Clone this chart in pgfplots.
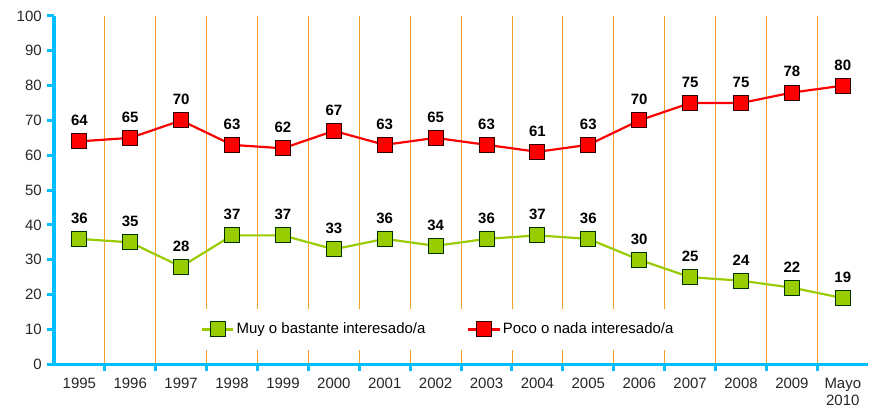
\documentclass[border=0pt]{standalone}
\usepackage{pgfplots}
\pgfplotsset{compat=1.18}
\usepackage{fontspec}
\setmainfont{Liberation Sans}
\definecolor{axcyan}{RGB}{0,190,255}
\definecolor{gridor}{RGB}{247,160,40}
\definecolor{lgreen}{RGB}{153,204,0}
\definecolor{lred}{RGB}{255,0,0}
\begin{document}
\fontsize{15pt}{17pt}\selectfont
\begin{tikzpicture}
\begin{axis}[
  scale only axis,
  width=816pt, height=349pt,
  xmin=-0.5, xmax=15.5, ymin=0, ymax=100,
  axis x line=bottom, axis y line=left,
  axis line style={axcyan, line width=3.5pt, -},
  xtick={0.5,1.5,...,14.5},
  xticklabels={},
  xmajorgrids,
  major grid style={gridor, line width=0.9pt},
  extra x ticks={0,...,15},
  extra x tick labels={1995,1996,1997,1998,1999,2000,2001,2002,2003,2004,2005,2006,2007,2008,2009,{Mayo\\2010}},
  extra x tick style={grid=none, tick style={draw=none},
    xticklabel style={align=center, font=\fontsize{15pt}{17pt}\selectfont, yshift=-2pt, text=black!85}},
  major tick length=7pt,
  xtick align=outside, ytick align=outside,
  tick style={draw=axcyan, line width=3pt},
  ytick={0,10,...,100},
  yticklabel style={font=\fontsize{15pt}{17pt}\selectfont, text=black!85},
  /pgf/number format/assume math mode=true,
  clip=false,
  legend style={at={(0.472,0.10)}, anchor=center, draw=none, fill=white,
    legend columns=2, font=\fontsize{15pt}{17pt}\selectfont,
    /tikz/every even column/.append style={column sep=40pt},
    inner xsep=22pt, inner ysep=12pt},
  legend image code/.code={%
    \draw[#1, mark=none] (0cm,0cm) -- (1.1cm,0cm);
    \draw[#1, only marks] plot coordinates {(0.55cm,0cm)};},
  nodes near coords,
  every node near coord/.append style={font=\bfseries\fontsize{15pt}{17pt}\selectfont, anchor=south, yshift=10pt, black},
]
\addplot[lgreen, line width=2.2pt, mark=square*, mark size=7.5pt,
  mark options={fill=lgreen, draw=black!80!green, line width=1pt}]
  coordinates {(0,36)(1,35)(2,28)(3,37)(4,37)(5,33)(6,36)(7,34)(8,36)(9,37)(10,36)(11,30)(12,25)(13,24)(14,22)(15,19)};
\addlegendentry{Muy o bastante interesado/a}
\addplot[lred, line width=2.2pt, mark=square*, mark size=7.5pt,
  mark options={fill=lred, draw=black!80!red, line width=1pt}]
  coordinates {(0,64)(1,65)(2,70)(3,63)(4,62)(5,67)(6,63)(7,65)(8,63)(9,61)(10,63)(11,70)(12,75)(13,75)(14,78)(15,80)};
\addlegendentry{Poco o nada interesado/a}
\end{axis}
\path ([xshift=-54pt,yshift=-50pt]current axis.south west) rectangle ([yshift=16pt]current axis.north east);
\end{tikzpicture}
\end{document}
